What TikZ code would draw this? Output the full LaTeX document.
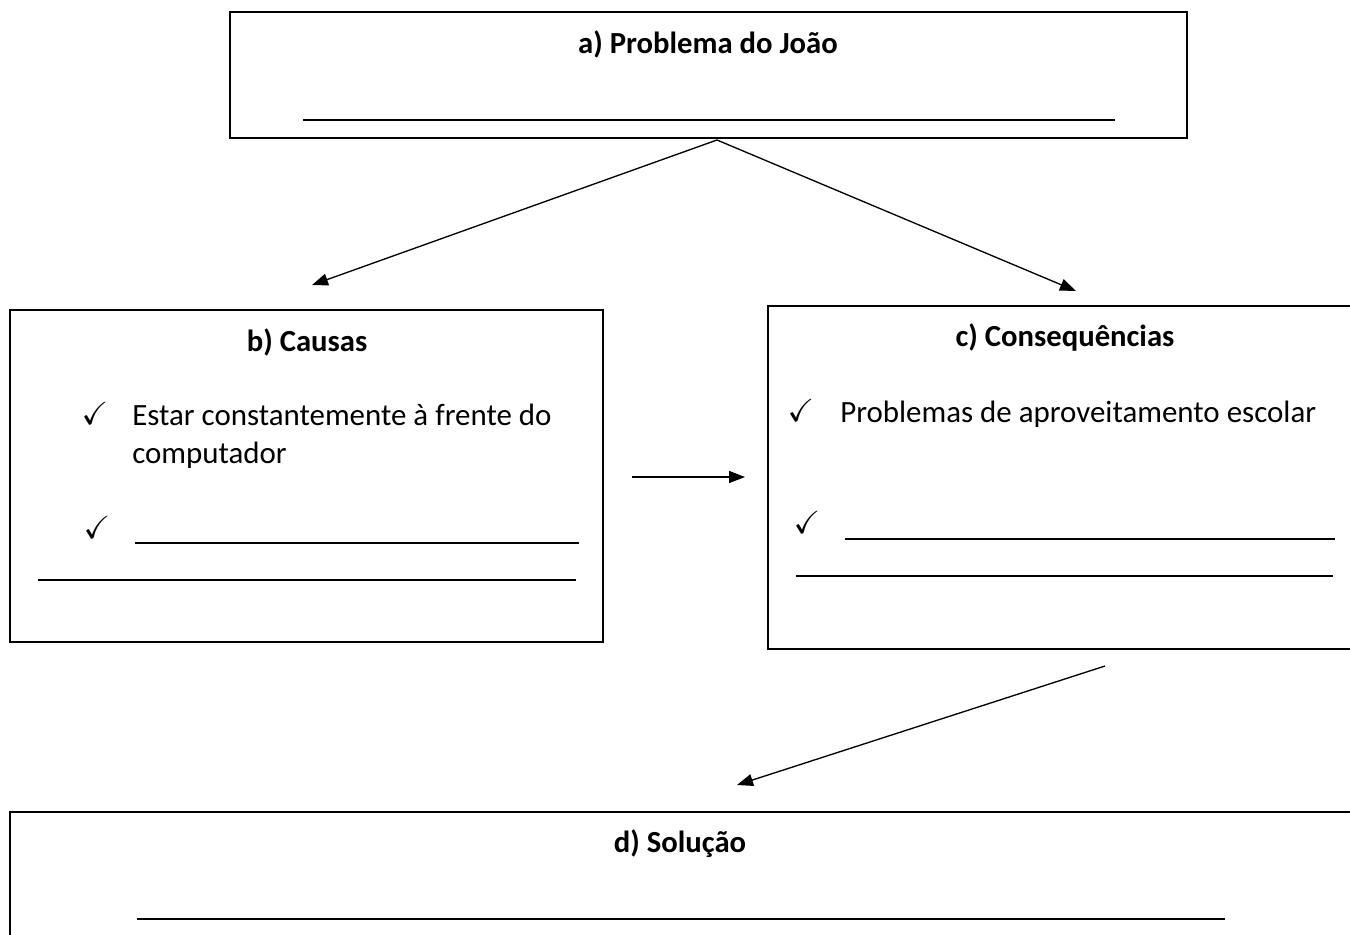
\documentclass[tikz,border=0pt]{standalone}
\usepackage{amssymb}
\usepackage{fontspec}
\setmainfont{Carlito}
\usetikzlibrary{arrows.meta}
\begin{document}
\begin{tikzpicture}[x=0.75pt,y=-0.75pt,
  box/.style={draw, line width=1.1pt, inner sep=0pt},
  ttl/.style={font=\fontsize{23}{28}\selectfont\bfseries, inner sep=0pt},
  txt/.style={font=\fontsize{23.2}{28.5}\selectfont, inner sep=0pt, anchor=west, align=left},
  chk/.style={font=\fontsize{24}{26}\selectfont, inner sep=0pt},
  blank/.style={line width=0.8pt},
  conn/.style={line width=1pt, -{Triangle[length=12pt,width=9pt]}}]
\useasboundingbox (0,0) rectangle (1350,935);
\fill[white] (0,0) rectangle (1350,935);
% boxes
\node[box, minimum width=717.75pt, minimum height=94.5pt] (A) at (708.5,75) {};
\node[box, minimum width=444.75pt, minimum height=249pt] (B) at (306.5,476) {};
\node[box, minimum width=445.5pt, minimum height=257.25pt] (C) at (1065,477.5) {};
\node[box, minimum width=1014pt, minimum height=103.5pt] (D) at (686,881) {};
% titles
\node[ttl] (At) at (708,44) {a) Problema do João};
\node[ttl] (Bt) at (307,342) {b) Causas};
\node[ttl] (Ct) at (1065,338) {c) Consequências};
\node[ttl] (Dt) at (680,844) {d) Solução};
% box a blank
\coordinate (a1) at (303,120); \coordinate (a2) at (1115,120);
\draw[blank] (a1) -- (a2);
% box b
\node[chk] (bc1) at (95,413) {$\checkmark$};
\node[txt, anchor=north west] (bt1) at (132,404) {Estar constantemente à frente do\\computador};
\node[chk] (bc2) at (97,527) {$\checkmark$};
\coordinate (b1) at (135,543); \coordinate (b2) at (579,543);
\coordinate (b3) at (38,580); \coordinate (b4) at (576,580);
\draw[blank] (b1) -- (b2);
\draw[blank] (b3) -- (b4);
% box c
\node[chk] (cc1) at (801,410) {$\checkmark$};
\node[txt] (ct1) at (840,414) {Problemas de aproveitamento escolar};
\node[chk] (cc2) at (807,522) {$\checkmark$};
\coordinate (c1) at (845,539); \coordinate (c2) at (1335,539);
\coordinate (c3) at (796,576); \coordinate (c4) at (1333,576);
\draw[blank] (c1) -- (c2);
\draw[blank] (c3) -- (c4);
% box d blank
\coordinate (d1) at (137,919); \coordinate (d2) at (1225,919);
\draw[blank] (d1) -- (d2);
% connectors
\coordinate (as) at (717,140);
\coordinate (bn) at (312,285);
\coordinate (cn) at (1076,291);
\coordinate (be) at (632,477);
\coordinate (cw) at (745,477);
\coordinate (cs) at (1105,666);
\coordinate (dn) at (737,785);
\draw[conn] (as) -- (bn);
\draw[conn] (as) -- (cn);
\draw[conn] (be) -- (cw);
\draw[conn] (cs) -- (dn);
\end{tikzpicture}
\end{document}
